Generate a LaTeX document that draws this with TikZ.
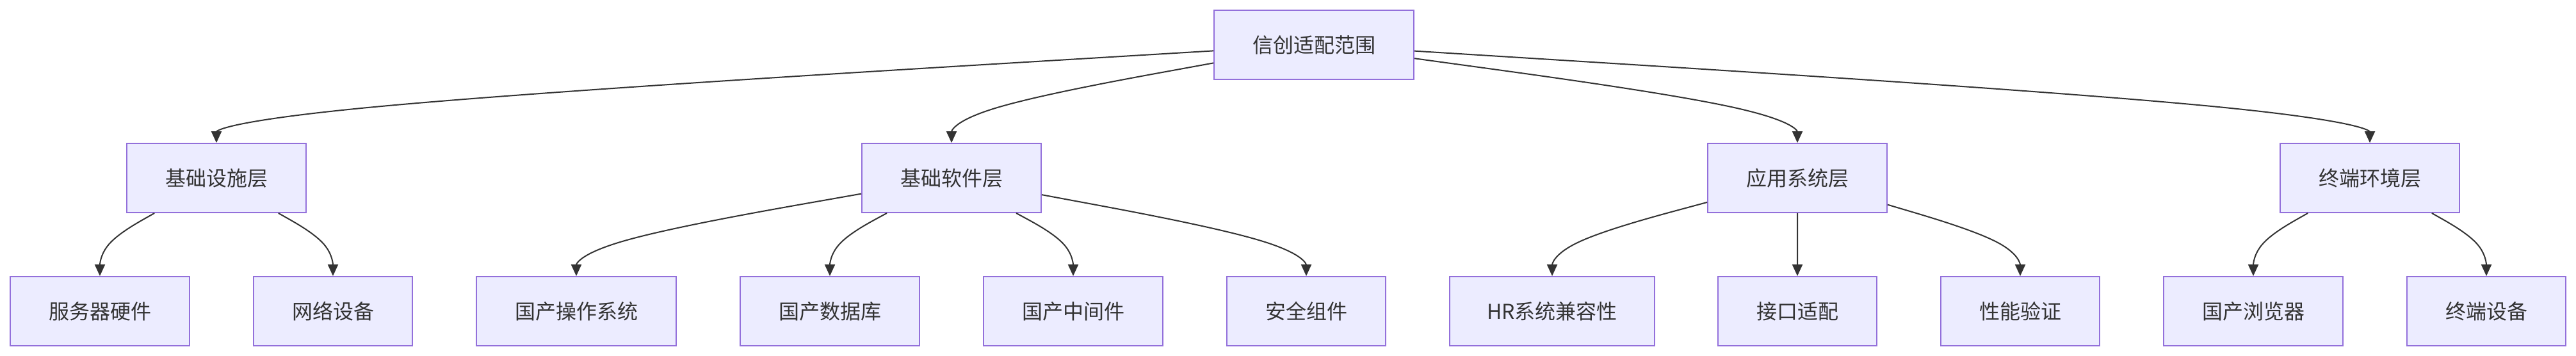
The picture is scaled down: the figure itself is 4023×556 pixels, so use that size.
\documentclass[tikz,border=0pt]{standalone}
\usepackage{fontspec}
\setmainfont{Noto Sans CJK SC}
\usetikzlibrary{arrows.meta,calc}
\definecolor{nodefill}{HTML}{ECECFF}
\definecolor{nodeline}{HTML}{9370DB}
\definecolor{txtc}{HTML}{333333}
\definecolor{edgec}{HTML}{333333}
\tikzset{
  box/.style={draw=nodeline, fill=nodefill, line width=1.8pt, minimum height=108pt,
    inner sep=0pt, text=txtc, font=\fontsize{32pt}{38pt}\selectfont},
  edge/.style={draw=edgec, line width=2pt, -{Triangle[length=18pt,width=16pt]}},
}
% mermaid-like basis curve: source #1, target #2
\newcommand\mmedge[2]{%
  \coordinate (m#2) at ($(#2.north)+(0,50pt)$);
  \path (#1) -- (m#2) coordinate[pos=0] (s#2);
  \draw[edge] (s#2) -- ($(s#2)!1/6!(m#2)$)
    .. controls ($(s#2)!1/3!(m#2)$) and ($(s#2)!2/3!(m#2)$)
    .. ($0.16667*(s#2)+0.66667*(m#2)+0.16667*(#2.north)$)
    .. controls ($(m#2)!1/3!(#2.north)$) and ($(m#2)!2/3!(#2.north)$)
    .. (#2.north);
}
\begin{document}
\begin{tikzpicture}[x=1pt,y=-1pt]
\useasboundingbox (0,0) rectangle (4023,556);
% level 1
\node[box,minimum width=312pt] (root) at (2052,70) {信创适配范围};
% level 2
\node[box,minimum width=280pt] (infra) at (338,278) {基础设施层};
\node[box,minimum width=280pt] (soft) at (1486,278) {基础软件层};
\node[box,minimum width=280pt] (app) at (2807,278) {应用系统层};
\node[box,minimum width=280pt] (term) at (3701,278) {终端环境层};
% level 3
\node[box,minimum width=280pt] (srv) at (156,486) {服务器硬件};
\node[box,minimum width=248pt] (net) at (520,486) {网络设备};
\node[box,minimum width=312pt] (os) at (900,486) {国产操作系统};
\node[box,minimum width=280pt] (db) at (1296,486) {国产数据库};
\node[box,minimum width=280pt] (mw) at (1676,486) {国产中间件};
\node[box,minimum width=248pt] (sec) at (2040,486) {安全组件};
\node[box,minimum width=320pt] (hr) at (2424,486) {HR系统兼容性};
\node[box,minimum width=248pt] (api) at (2807,486) {接口适配};
\node[box,minimum width=248pt] (perf) at (3155,486) {性能验证};
\node[box,minimum width=280pt] (brw) at (3519,486) {国产浏览器};
\node[box,minimum width=248pt] (dev) at (3883,486) {终端设备};
% edges
\mmedge{root}{infra}
\mmedge{root}{soft}
\mmedge{root}{app}
\mmedge{root}{term}
\mmedge{infra}{srv}
\mmedge{infra}{net}
\mmedge{soft}{os}
\mmedge{soft}{db}
\mmedge{soft}{mw}
\mmedge{soft}{sec}
\mmedge{app}{hr}
\mmedge{app}{api}
\mmedge{app}{perf}
\mmedge{term}{brw}
\mmedge{term}{dev}
\end{tikzpicture}
\end{document}
